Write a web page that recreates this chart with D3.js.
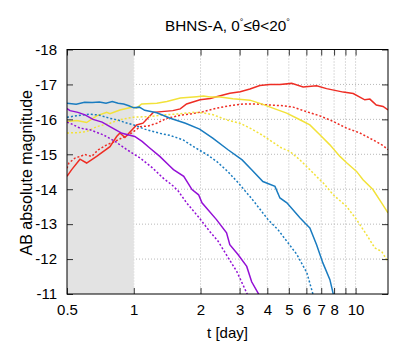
<!DOCTYPE html>
<html>
<head>
    <title>BHNS-A light curves</title>
    <script src="https://d3js.org/d3.v7.min.js"></script>
    <style>
        body { margin: 0; background: #fff; }
        text { font-family: "Liberation Sans", Arial, sans-serif; fill: #000; }
    </style>
</head>
<body>
<script>
// Light curves: [t in days, AB absolute magnitude]
const redSolid = [[0.5,-14.37],[0.525,-14.56],[0.572,-14.86],[0.613,-14.75],[0.68,-14.94],[0.781,-15.22],[0.837,-15.51],[0.866,-15.61],[0.912,-15.48],[1.03,-15.84],[1.1,-15.89],[1.224,-16.2],[1.5,-16.25],[1.62,-16.3],[1.73,-16.44],[1.99,-16.56],[2.21,-16.6],[2.36,-16.65],[2.71,-16.75],[3.02,-16.79],[3.34,-16.87],[3.7,-16.97],[4.11,-17.0],[4.56,-17.0],[5.15,-17.03],[5.8,-16.93],[6.67,-16.96],[7.4,-16.88],[8.8,-16.78],[9.76,-16.74],[11.0,-16.56],[11.6,-16.58],[12.4,-16.41],[13.3,-16.37],[14.0,-16.27]];
const redDotted = [[0.5,-14.6],[0.51,-14.75],[0.543,-14.89],[0.603,-14.99],[0.646,-14.94],[0.692,-15.13],[0.755,-15.27],[0.823,-15.37],[0.913,-15.51],[0.979,-15.61],[1.07,-15.79],[1.16,-15.81],[1.27,-15.89],[1.41,-16.03],[1.53,-16.08],[1.62,-16.12],[1.79,-16.15],[2.05,-16.22],[2.36,-16.32],[2.71,-16.39],[3.11,-16.44],[3.58,-16.44],[4.11,-16.41],[4.72,-16.39],[5.23,-16.35],[6.01,-16.22],[6.9,-16.1],[7.93,-15.94],[9.1,-15.75],[10.45,-15.61],[12.0,-15.41],[13.3,-15.25],[14.0,-15.13]];
const yellowSolid = [[0.5,-15.94],[0.553,-15.97],[0.613,-15.91],[0.68,-16.1],[0.755,-16.2],[0.781,-16.16],[0.866,-16.27],[0.99,-16.35],[1.03,-16.32],[1.085,-16.44],[1.27,-16.46],[1.41,-16.51],[1.62,-16.61],[1.92,-16.65],[2.06,-16.67],[2.21,-16.64],[2.45,-16.64],[2.8,-16.59],[3.34,-16.55],[3.82,-16.43],[4.33,-16.3],[4.89,-16.18],[5.61,-15.99],[6.22,-15.84],[6.9,-15.56],[7.66,-15.27],[8.5,-14.94],[9.14,-14.75],[10.1,-14.51],[10.8,-14.27],[11.97,-13.99],[13.1,-13.61],[14.0,-13.32]];
const yellowDotted = [[0.5,-15.61],[0.553,-15.62],[0.613,-15.65],[0.68,-15.79],[0.781,-15.89],[0.866,-15.99],[0.99,-16.06],[1.18,-16.08],[1.36,-16.13],[1.62,-16.16],[1.85,-16.2],[2.05,-16.19],[2.28,-16.13],[2.61,-15.99],[3.01,-15.89],[3.34,-15.75],[3.77,-15.56],[4.18,-15.37],[4.64,-15.18],[5.06,-15.08],[5.61,-14.84],[6.22,-14.56],[6.9,-14.27],[7.15,-14.18],[7.93,-13.84],[9.1,-13.51],[10.1,-13.13],[11.2,-12.7],[12.2,-12.32],[13.1,-12.22],[13.8,-11.99],[14.0,-11.94]];
const blueSolid = [[0.5,-16.46],[0.55,-16.43],[0.6,-16.49],[0.65,-16.48],[0.7,-16.5],[0.75,-16.46],[0.8,-16.51],[0.85,-16.46],[0.9,-16.44],[0.95,-16.39],[1.0,-16.33],[1.06,-16.35],[1.12,-16.26],[1.27,-16.19],[1.46,-16.03],[1.71,-15.89],[1.98,-15.72],[2.27,-15.46],[2.66,-15.13],[3.08,-14.84],[3.4,-14.56],[3.82,-14.22],[4.33,-14.08],[4.56,-13.75],[4.9,-13.61],[5.61,-13.18],[6.0,-12.99],[6.22,-12.89],[6.67,-12.41],[7.12,-11.89],[7.66,-11.41],[7.93,-11.0],[8.2,-10.6]];
const blueDotted = [[0.5,-16.06],[0.55,-16.1],[0.6,-16.13],[0.635,-16.15],[0.7,-16.12],[0.78,-16.03],[0.85,-15.98],[0.92,-15.9],[1.0,-15.84],[1.12,-15.72],[1.31,-15.6],[1.46,-15.54],[1.67,-15.41],[1.89,-15.19],[2.14,-14.99],[2.37,-14.79],[2.66,-14.5],[2.95,-14.19],[3.34,-13.79],[3.52,-13.61],[4.03,-13.13],[4.47,-12.84],[5.44,-12.13],[6.03,-11.61],[6.42,-11.0],[6.6,-10.7]];
const purpleSolid = [[0.5,-16.31],[0.516,-16.25],[0.56,-16.2],[0.603,-16.13],[0.655,-16.0],[0.72,-15.92],[0.781,-15.79],[0.885,-15.6],[1.01,-15.51],[1.09,-15.37],[1.18,-15.18],[1.31,-14.94],[1.46,-14.65],[1.51,-14.56],[1.68,-14.37],[1.83,-13.99],[1.96,-13.84],[2.03,-13.61],[2.36,-13.13],[2.62,-12.75],[2.71,-12.41],[2.95,-12.13],[3.23,-11.79],[3.4,-11.35],[3.64,-11.02],[3.75,-10.8]];
const purpleDotted = [[0.5,-15.92],[0.516,-15.89],[0.572,-15.75],[0.635,-15.7],[0.727,-15.56],[0.823,-15.37],[0.932,-15.13],[1.07,-14.89],[1.21,-14.62],[1.35,-14.33],[1.5,-14.1],[1.59,-13.94],[1.73,-13.61],[1.95,-13.22],[2.2,-12.79],[2.4,-12.51],[2.67,-12.03],[2.91,-11.65],[3.23,-11.03],[3.35,-10.8]];

const xTicks = [0.5, 1, 2, 3, 4, 5, 6, 7, 8, 9, 10];
const xTickLabels = ["0.5", "1", "2", "3", "4", "5", "6", "7", "8", "", "10"];
const yTicks = [-18, -17, -16, -15, -14, -13, -12, -11];
const yTickLabels = ["-18", "-17", "-16", "-15", "-14", "-13", "-12", "-11"];
const shadedRange = [0.5, 1];

const series = [
    {data: redSolid, color: "#ee2d24", dash: null},
    {data: redDotted, color: "#ee2d24", dash: "2,2"},
    {data: yellowSolid, color: "#f2e23a", dash: null},
    {data: yellowDotted, color: "#f2e23a", dash: "2,2"},
    {data: blueSolid, color: "#1a7cc0", dash: null},
    {data: blueDotted, color: "#1a7cc0", dash: "2,2"},
    {data: purpleSolid, color: "#9410d6", dash: null},
    {data: purpleDotted, color: "#9410d6", dash: "2,2"}
];

const W = 415, H = 346;
const margin = {top: 49.5, right: 27, bottom: 52, left: 67};
const width = W - margin.left - margin.right,
      height = H - margin.top - margin.bottom;

const svg = d3.select("body").append("svg")
    .attr("width", W)
    .attr("height", H);

const g = svg.append("g")
    .attr("transform", `translate(${margin.left},${margin.top})`);

const x = d3.scaleLog().domain([0.5, 14]).range([0, width]);
const y = d3.scaleLinear().domain([-18, -11]).range([0, height]);

// grid
g.append("g").selectAll("line").data(xTicks.filter(d => d > 0.5))
    .join("line")
    .attr("x1", d => x(d)).attr("x2", d => x(d))
    .attr("y1", 0).attr("y2", height)
    .attr("stroke", "#b8b8b8").attr("stroke-width", 1)
    .attr("stroke-dasharray", "1,2");
g.append("g").selectAll("line").data(yTicks.slice(1, -1))
    .join("line")
    .attr("x1", 0).attr("x2", width)
    .attr("y1", d => y(d)).attr("y2", d => y(d))
    .attr("stroke", "#b8b8b8").attr("stroke-width", 1)
    .attr("stroke-dasharray", "1,2");

// shaded early-time region
g.append("rect")
    .attr("x", x(shadedRange[0]))
    .attr("y", 0)
    .attr("width", x(shadedRange[1]) - x(shadedRange[0]))
    .attr("height", height)
    .attr("fill", "#e3e3e3");

g.append("clipPath").attr("id", "clip")
    .append("rect").attr("width", width).attr("height", height);

const line = d3.line()
    .x(d => x(d[0]))
    .y(d => y(d[1]));

g.append("g").attr("clip-path", "url(#clip)")
    .selectAll("path").data(series)
    .join("path")
    .attr("fill", "none")
    .attr("stroke", d => d.color)
    .attr("stroke-width", 1.5)
    .attr("stroke-dasharray", d => d.dash)
    .attr("d", d => line(d.data));

// axes, ticks pointing inward on all four sides
const xFmt = d => xTickLabels[xTicks.indexOf(d)];
const yFmt = d => yTickLabels[yTicks.indexOf(d)];
const xBottom = g.append("g").attr("transform", `translate(0,${height})`)
    .call(d3.axisBottom(x).tickValues(xTicks).tickFormat(xFmt).tickSizeInner(-6).tickSizeOuter(0).tickPadding(10));
const xTop = g.append("g")
    .call(d3.axisTop(x).tickValues(xTicks).tickFormat("").tickSizeInner(-6).tickSizeOuter(0));
const yLeft = g.append("g")
    .call(d3.axisLeft(y).tickValues(yTicks).tickFormat(yFmt).tickSizeInner(-6).tickSizeOuter(0).tickPadding(10));
const yRight = g.append("g").attr("transform", `translate(${width},0)`)
    .call(d3.axisRight(y).tickValues(yTicks).tickFormat("").tickSizeInner(-6).tickSizeOuter(0));

[xBottom, xTop, yLeft, yRight].forEach(a => {
    a.select(".domain").remove();
    a.selectAll(".tick line").attr("stroke", "#333").attr("stroke-width", 1);
    a.selectAll("text").attr("font-size", 15).attr("font-family", "Liberation Sans, Arial, sans-serif").attr("fill", "#000");
});

g.append("rect")
    .attr("width", width).attr("height", height)
    .attr("fill", "none").attr("stroke", "#000").attr("stroke-width", 1);

// labels
svg.append("text")
    .attr("x", margin.left + width / 2).attr("y", 338)
    .attr("text-anchor", "middle").attr("font-size", 15)
    .text("t [day]");

svg.append("text")
    .attr("transform", `translate(32,${margin.top + height / 2 + 1}) rotate(-90)`)
    .attr("text-anchor", "middle").attr("font-size", 16)
    .text("AB absolute magnitude");

const title = svg.append("text")
    .attr("x", margin.left + width / 2).attr("y", 31)
    .attr("text-anchor", "middle").attr("font-size", 15.3);
title.append("tspan").text("BHNS-A, 0");
title.append("tspan").attr("font-size", 9).attr("dy", -6).text("°");
title.append("tspan").attr("dy", 6).text("≤θ<20");
title.append("tspan").attr("font-size", 9).attr("dy", -6).text("°");
</script>
</body>
</html>
